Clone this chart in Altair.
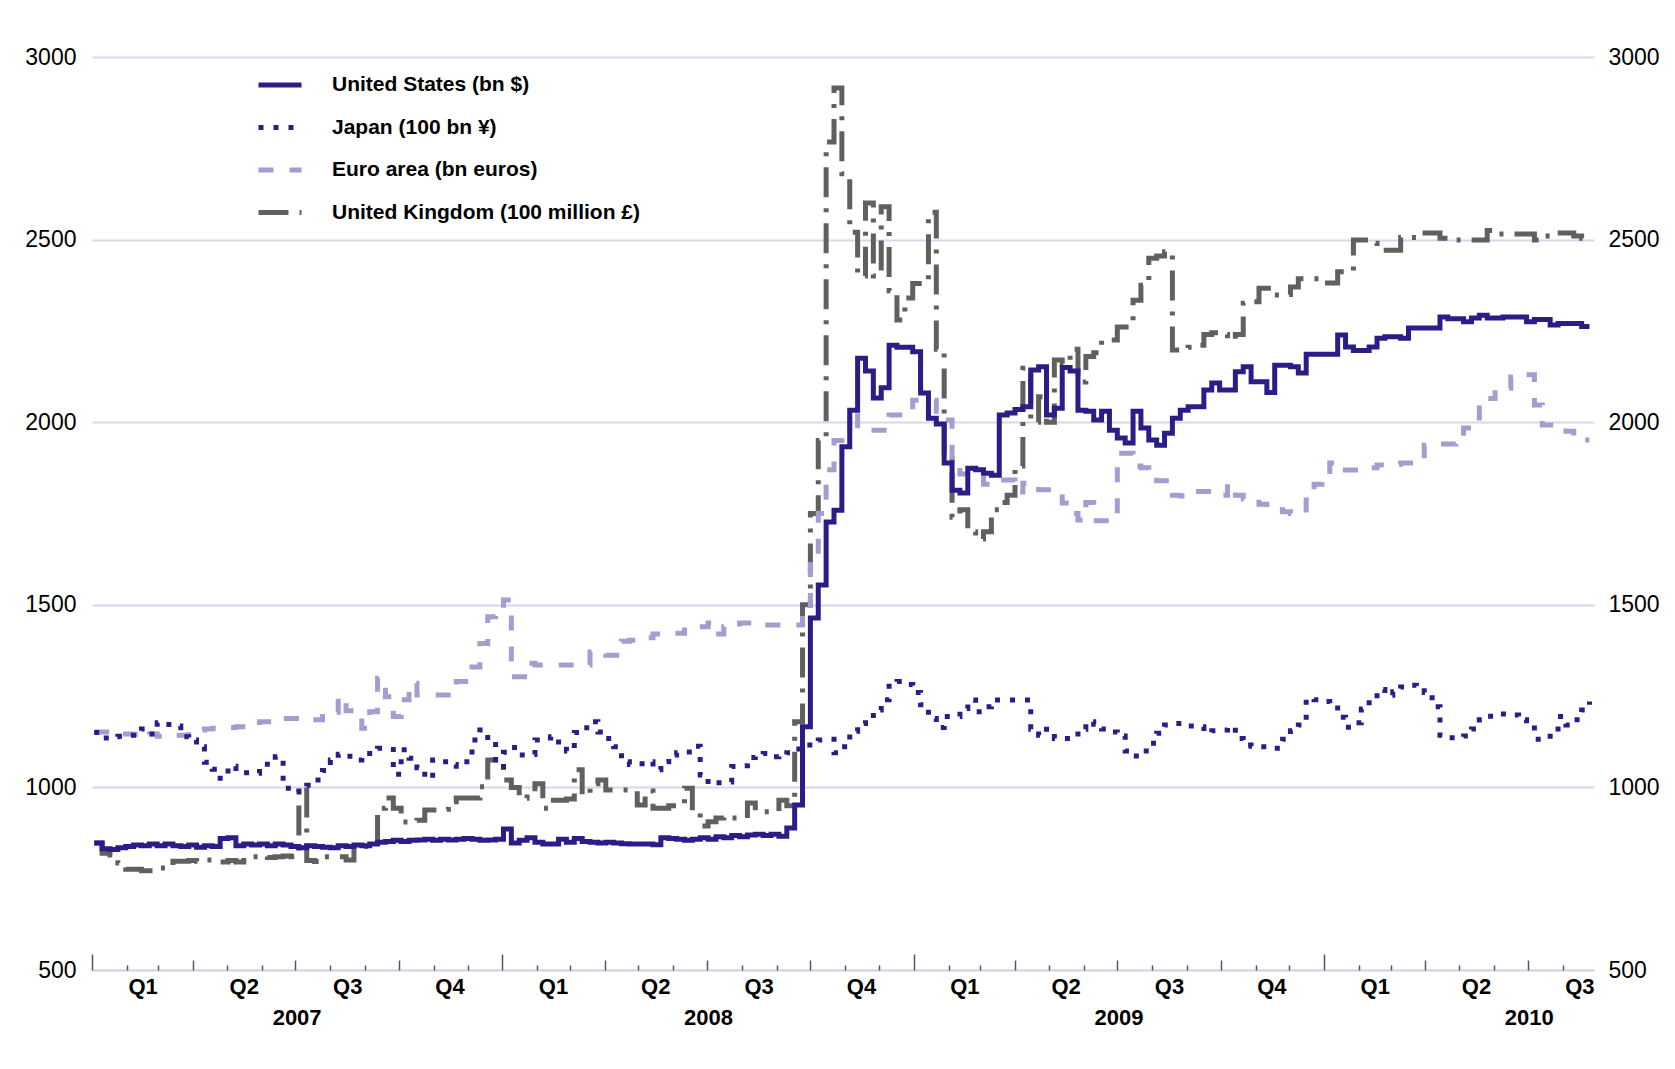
import altair as alt
import pandas as pd

# ---------------- data (weekly, Wednesdays from 2007-01-03) ----------------
first_week = "2007-01-03"

us = [
    848, 832, 830, 835, 838, 842, 840, 845, 840, 845,
    840, 838, 842, 836, 840, 838, 860, 862, 840, 845,
    842, 845, 840, 845, 842, 838, 835, 840, 838, 836,
    835, 840, 838, 842, 840, 845, 850, 852, 855, 852,
    855, 856, 858, 855, 858, 856, 858, 860, 858, 855,
    856, 858, 886, 848, 855, 862, 850, 845, 845, 858,
    850, 860, 852, 850, 848, 850, 848, 846, 845, 845,
    845, 843, 862, 860, 858, 855, 858, 862, 858, 865,
    862, 868, 865, 870, 872, 868, 872, 866, 889, 952,
    1166, 1464, 1554, 1727, 1759, 1933, 2033, 2175, 2140, 2066,
    2094, 2211, 2205, 2205, 2193, 2080, 2011, 1995, 1888, 1814,
    1806, 1874, 1870, 1860, 1855, 2020, 2025, 2035, 2042, 2143,
    2152, 2020, 2038, 2150, 2140, 2033, 2030, 2006, 2030, 1978,
    1957, 1943, 2030, 1984, 1951, 1937, 1970, 2011, 2033, 2042,
    2042, 2088, 2107, 2088, 2088, 2138, 2152, 2111, 2111, 2081,
    2156, 2156, 2152, 2135, 2186, 2186, 2186, 2186, 2239, 2206,
    2196, 2196, 2206, 2230, 2234, 2234, 2230, 2258, 2258, 2258,
    2258, 2288, 2283, 2283, 2275, 2285, 2293, 2285, 2285, 2288,
    2288, 2288, 2275, 2281, 2281, 2266, 2270, 2270, 2270, 2262,
    2262,
]

japan = [
    1150, 1135, 1139, 1140, 1143, 1150, 1160, 1146, 1177, 1172,
    1168, 1139, 1130, 1111, 1069, 1050, 1025, 1058, 1042, 1040,
    1039, 1053, 1073, 1084, 998, 988, 1000, 1006, 1020, 1046,
    1075, 1091, 1085, 1075, 1086, 1100, 1107, 1104, 1036, 1103,
    1080, 1054, 1025, 1075, 1070, 1063, 1058, 1070, 1130, 1157,
    1125, 1057, 1096, 1109, 1089, 1090, 1130, 1135, 1139, 1114,
    1100, 1150, 1163, 1180, 1152, 1134, 1111, 1070, 1063, 1065,
    1070, 1048, 1070, 1089, 1095, 1097, 1113, 1034, 1009, 1013,
    1015, 1057, 1059, 1082, 1088, 1093, 1084, 1090, 1095, 1105,
    1116, 1116, 1130, 1132, 1095, 1111, 1154, 1175, 1189, 1212,
    1240, 1285, 1290, 1282, 1260, 1226, 1189, 1164, 1194, 1194,
    1216, 1239, 1207, 1221, 1239, 1239, 1239, 1239, 1239, 1159,
    1143, 1159, 1134, 1134, 1134, 1159, 1180, 1173, 1160, 1152,
    1141, 1100, 1086, 1100, 1121, 1148, 1171, 1175, 1175, 1168,
    1166, 1150, 1155, 1157, 1166, 1134, 1116, 1113, 1111, 1108,
    1107, 1132, 1155, 1171, 1244, 1240, 1235, 1225, 1192, 1165,
    1177, 1215, 1239, 1268, 1252, 1262, 1275, 1280, 1272, 1260,
    1221, 1143, 1136, 1138, 1141, 1160, 1185, 1195, 1201, 1201,
    1198, 1185, 1170, 1132, 1132, 1150, 1194, 1171, 1185, 1212,
    1235,
]

euro = [
    1152, 1152, 1150, 1146, 1146, 1145, 1139, 1146, 1140, 1143,
    1143, 1143, 1157, 1157, 1160, 1162, 1162, 1164, 1166, 1166,
    1170, 1180, 1180, 1185, 1189, 1189, 1185, 1185, 1185, 1206,
    1206, 1248, 1210, 1210, 1162, 1207, 1299, 1248, 1194, 1240,
    1285, 1253, 1253, 1253, 1253, 1253, 1290, 1290, 1330, 1394,
    1467, 1472, 1513, 1303, 1303, 1340, 1335, 1335, 1335, 1335,
    1335, 1335, 1335, 1371, 1371, 1362, 1362, 1400, 1403, 1403,
    1410, 1420, 1420, 1422, 1422, 1440, 1440, 1440, 1450, 1420,
    1440, 1440, 1450, 1450, 1445, 1445, 1445, 1445, 1445, 1445,
    1480, 1610, 1750, 1870, 1950, 1965, 2033, 1978, 1978, 1978,
    1978, 2020, 2020, 2020, 2060, 2060, 2060, 2030, 2006, 1896,
    1858, 1852, 1852, 1830, 1830, 1842, 1842, 1809, 1833, 1833,
    1815, 1815, 1815, 1779, 1750, 1732, 1780, 1730, 1730, 1745,
    1915, 1915, 1880, 1875, 1860, 1840, 1840, 1800, 1798, 1798,
    1810, 1810, 1805, 1800, 1830, 1800, 1790, 1790, 1775, 1765,
    1760, 1755, 1750, 1750, 1787, 1830, 1851, 1888, 1869, 1869,
    1869, 1869, 1875, 1883, 1883, 1885, 1888, 1888, 1890, 1937,
    1937, 1940, 1940, 1945, 1984, 1988, 2060, 2065, 2093, 2093,
    2124, 2124, 2130, 2047, 1992, 1992, 1990, 1975, 1960, 1951,
    1951,
]

uk = [
    848, 820, 815, 793, 776, 776, 772, 772, 779, 779,
    798, 798, 800, 798, 801, 796, 796, 800, 796, 810,
    810, 812, 808, 810, 812, 810, 1000, 800, 797, 810,
    810, 810, 801, 838, 838, 838, 943, 971, 943, 905,
    905, 910, 938, 938, 940, 961, 971, 971, 971, 1002,
    1075, 1061, 1020, 1000, 970, 988, 1010, 943, 965, 965,
    968, 1048, 979, 1010, 1020, 993, 993, 993, 993, 952,
    990, 943, 943, 950, 952, 998, 930, 894, 906, 916,
    920, 916, 916, 957, 933, 933, 933, 965, 950, 1180,
    1500, 1750, 1950, 2767, 2915, 2680, 2520, 2400, 2600, 2400,
    2590, 2360, 2280, 2340, 2380, 2380, 2575, 2200, 1900, 1740,
    1760, 1700, 1680, 1700, 1760, 1780, 1800, 1880, 2148, 2000,
    2070, 2000, 2170, 2160, 2200, 2110, 2180, 2190, 2225, 2225,
    2261, 2261, 2334, 2375, 2449, 2455, 2467, 2198, 2198, 2205,
    2211, 2240, 2245, 2240, 2225, 2240, 2326, 2330, 2367, 2367,
    2348, 2350, 2370, 2393, 2393, 2393, 2381, 2381, 2412, 2412,
    2499, 2499, 2490, 2471, 2471, 2471, 2506, 2506, 2518, 2518,
    2518, 2504, 2499, 2499, 2499, 2499, 2499, 2525, 2515, 2515,
    2515, 2515, 2515, 2499, 2510, 2518, 2518, 2518, 2510, 2504,
    2504,
]

series_names = [
    "United States (bn $)",
    "Japan (100 bn ¥)",
    "Euro area (bn euros)",
    "United Kingdom (100 million £)",
]
y_ticks = [500, 1000, 1500, 2000, 2500, 3000]

x_start = "2007-01-01"
x_end = "2010-08-29"
year_starts = ["2007-01-01", "2008-01-01", "2009-01-01", "2010-01-01"]
quarter_starts = [
    "2007-04-01", "2007-07-01", "2007-10-01",
    "2008-04-01", "2008-07-01", "2008-10-01",
    "2009-04-01", "2009-07-01", "2009-10-01",
    "2010-04-01", "2010-07-01",
]
month_starts = [
    f"{y}-{m:02d}-01"
    for y in (2007, 2008, 2009, 2010)
    for m in (2, 3, 5, 6, 8, 9, 11, 12)
    if not (y == 2010 and m > 8)
]
quarter_mids = [
    f"{y}-{md}"
    for y in (2007, 2008, 2009, 2010)
    for md in ("02-15", "05-16", "08-16", "11-15")
    if not (y == 2010 and md == "11-15")
]
year_mids = ["2007-07-02", "2008-07-02", "2009-07-02", "2010-07-02"]

# ---------------- styles ----------------
FONT = "Liberation Sans, Arial, sans-serif"
NAVY = "#2b1d87"
series_colors = [NAVY, NAVY, "#a79bcf", "#606060"]
series_dashes = [[1, 0], [5, 10], [15, 16], [30, 11, 4, 11]]
GRID = "#d9d6ec"
TICK = "#555555"


def ms(s):
    return int(pd.Timestamp(s, tz="UTC").timestamp() * 1000)


dates = pd.date_range(first_week, periods=len(us), freq="7D").strftime("%Y-%m-%d").tolist()
draw_order = [
    (series_names[3], uk),
    (series_names[2], euro),
    (series_names[1], japan),
    (series_names[0], us),
]
records = []
for name, vals in draw_order:
    for d, v in zip(dates, vals):
        records.append({"date": d, "value": v, "series": name})
df = pd.DataFrame(records)

x_scale = alt.Scale(type="utc", domain=[ms(x_start), ms(x_end)])
y_scale = alt.Scale(domain=[500, 3000], nice=False, zero=False)

legend = alt.Legend(
    title=None,
    orient="none",
    legendX=164,
    legendY=4,
    symbolType="stroke",
    symbolSize=1849,
    symbolStrokeWidth=5,
    labelFont=FONT,
    labelFontSize=21,
    labelFontWeight="bold",
    labelColor="black",
    labelOffset=28,
    labelLimit=600,
    rowPadding=8.5,
    padding=0,
)

lines = alt.Chart(df).mark_line(
    interpolate="step-after", strokeWidth=5, strokeCap="butt"
).encode(
    x=alt.X(
        "date:T",
        scale=x_scale,
        axis=alt.Axis(
            orient="bottom",
            values=[ms(d) for d in quarter_mids],
            labelExpr="'Q' + (floor(utcmonth(datum.value) / 3) + 1)",
            ticks=False,
            grid=False,
            domain=True,
            domainColor=GRID,
            domainWidth=2,
            labelFont=FONT,
            labelFontSize=22,
            labelFontWeight="bold",
            labelColor="black",
            labelPadding=6,
            labelFlush=False,
            labelOverlap=False,
            title=None,
        ),
    ),
    y=alt.Y(
        "value:Q",
        scale=y_scale,
        axis=alt.Axis(
            orient="left",
            values=y_ticks,
            format="d",
            grid=True,
            gridColor=GRID,
            gridWidth=2,
            ticks=False,
            domain=False,
            labelFont=FONT,
            labelFontSize=23,
            labelColor="black",
            labelPadding=16,
            title=None,
        ),
    ),
    color=alt.Color(
        "series:N",
        scale=alt.Scale(domain=series_names, range=series_colors),
        legend=legend,
    ),
    strokeDash=alt.StrokeDash(
        "series:N",
        scale=alt.Scale(domain=series_names, range=series_dashes),
        legend=legend,
    ),
)

right_axis = alt.Chart(pd.DataFrame({"v": y_ticks})).mark_point(opacity=0).encode(
    y=alt.Y(
        "v:Q",
        scale=y_scale,
        axis=alt.Axis(
            orient="right",
            values=y_ticks,
            format="d",
            grid=False,
            ticks=False,
            domain=False,
            labelFont=FONT,
            labelFontSize=23,
            labelColor="black",
            labelPadding=14,
            title=None,
        ),
    )
)

year_label_axis = alt.Chart(pd.DataFrame({"d": year_mids})).mark_point(opacity=0).encode(
    x=alt.X(
        "d:T",
        scale=x_scale,
        axis=alt.Axis(
            orient="bottom",
            values=[ms(d) for d in year_mids],
            labelExpr="'' + utcyear(datum.value)",
            ticks=False,
            grid=False,
            domain=False,
            labelFont=FONT,
            labelFontSize=22,
            labelFontWeight="bold",
            labelColor="black",
            labelPadding=37,
            labelFlush=False,
            labelOverlap=False,
            title=None,
        ),
    )
)


def tick_layer(dates_list, size):
    return alt.Chart(pd.DataFrame({"d": dates_list})).mark_point(opacity=0).encode(
        x=alt.X(
            "d:T",
            scale=x_scale,
            axis=alt.Axis(
                orient="bottom",
                values=[ms(d) for d in dates_list],
                labels=False,
                domain=False,
                grid=False,
                ticks=True,
                tickSize=size,
                offset=-size,
                tickColor=TICK,
                tickWidth=1.5,
                title=None,
            ),
        )
    )


chart = (
    alt.layer(
        lines,
        right_axis,
        year_label_axis,
        tick_layer(year_starts, 16),
        tick_layer(quarter_starts, 10),
        tick_layer(month_starts, 5),
    )
    .resolve_axis(x="independent", y="independent")
    .properties(
        width=1502,
        height=913,
        autosize=alt.AutoSizeParams(type="none"),
        padding={"left": 84, "top": 49, "right": 69, "bottom": 80},
        background="white",
    )
    .configure_view(strokeWidth=0)
)

chart.save("out.html", embed_options={"renderer": "svg", "actions": False})
